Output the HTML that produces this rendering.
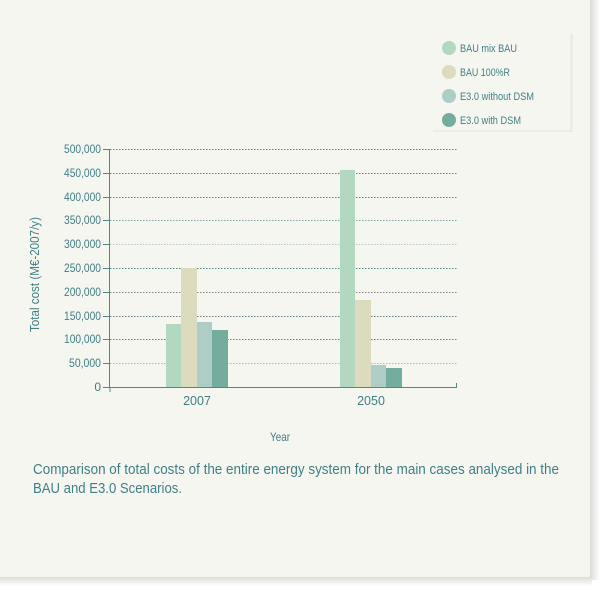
<!DOCTYPE html>
<html><head><meta charset="utf-8"><style>
body{margin:0;width:600px;height:593px;background:#fff;overflow:hidden}
</style></head><body>
<svg width="600" height="593" xmlns="http://www.w3.org/2000/svg" style="font-family:'Liberation Sans',sans-serif">
<defs>
<linearGradient id="rs" x1="0" x2="1"><stop offset="0" stop-color="#d8d8d4"/><stop offset="1" stop-color="#fff"/></linearGradient>
<linearGradient id="bs" x1="0" y1="0" x2="0" y2="1"><stop offset="0" stop-color="#d8d8d4"/><stop offset="1" stop-color="#fff"/></linearGradient>
</defs>
<rect x="589" y="0" width="11" height="580" fill="url(#rs)"/>
<rect x="0" y="576" width="592" height="10" fill="url(#bs)"/>
<rect x="0" y="0" width="590" height="577" fill="#f6f6f0"/>
<!-- legend -->
<rect x="433" y="34" width="140" height="98" fill="#ecece6"/>
<rect x="431" y="32" width="139" height="98" fill="#f6f6f0"/>
<g font-size="11" fill="#3f7f86" lengthAdjust="spacingAndGlyphs">
<circle cx="449" cy="48" r="7" fill="#b3d8c2"/><text x="460" y="52" textLength="57" lengthAdjust="spacingAndGlyphs">BAU mix BAU</text>
<circle cx="449" cy="72" r="7" fill="#dcdbbd"/><text x="460" y="76" textLength="50" lengthAdjust="spacingAndGlyphs">BAU 100%R</text>
<circle cx="449" cy="96" r="7" fill="#aecdc6"/><text x="460" y="100" textLength="74" lengthAdjust="spacingAndGlyphs">E3.0 without DSM</text>
<circle cx="449" cy="120" r="7" fill="#74ac9d"/><text x="460" y="124" textLength="61" lengthAdjust="spacingAndGlyphs">E3.0 with DSM</text>
</g>
<!-- grid -->
<g stroke-width="1" stroke-dasharray="1.5,1.5">
<line x1="110" x2="457" y1="149.5" y2="149.5" stroke="#4a8a86"/>
<line x1="110" x2="457" y1="173.5" y2="173.5" stroke="#4a8a86"/>
<line x1="110" x2="457" y1="197.5" y2="197.5" stroke="#4a8a86"/>
<line x1="110" x2="457" y1="220.5" y2="220.5" stroke="#7aa6a2"/>
<line x1="110" x2="457" y1="244.5" y2="244.5" stroke="#b6c9c6"/>
<line x1="110" x2="457" y1="268.5" y2="268.5" stroke="#4a8a86"/>
<line x1="110" x2="457" y1="292.5" y2="292.5" stroke="#8e7e86"/>
<line x1="110" x2="457" y1="316.5" y2="316.5" stroke="#6f7f86"/>
<line x1="110" x2="457" y1="339.5" y2="339.5" stroke="#4a8a86"/>
<line x1="110" x2="457" y1="363.5" y2="363.5" stroke="#9fbcb9"/>
</g>
<!-- bars -->
<rect x="166" y="324" width="15" height="63" fill="#b3d8c2"/>
<rect x="181" y="268" width="16" height="119" fill="#dcdbbd"/>
<rect x="197" y="322" width="15" height="65" fill="#aecdc6"/>
<rect x="212" y="330" width="16" height="57" fill="#74ac9d"/>
<rect x="340" y="170" width="15" height="217" fill="#b3d8c2"/>
<rect x="355" y="300" width="16" height="87" fill="#dcdbbd"/>
<rect x="371" y="365" width="15" height="22" fill="#aecdc6"/>
<rect x="386" y="368" width="16" height="19" fill="#74ac9d"/>
<!-- axes -->
<g stroke="#4a8a8a" stroke-width="1" fill="none">
<line x1="109.5" y1="149" x2="109.5" y2="387"/>
<line x1="109" y1="387.5" x2="457" y2="387.5"/>
<line x1="456.5" y1="383" x2="456.5" y2="388"/>
<line x1="110" y1="387" x2="110" y2="392"/>
<path d="M103 149.5h6M103 173.5h6M103 197.5h6M103 220.5h6M103 244.5h6M103 268.5h6M103 292.5h6M103 316.5h6M103 339.5h6M103 363.5h6M103 387.5h6"/>
</g>
<g font-size="12" fill="#3f7f86" text-anchor="end">
<text x="101" y="153" textLength="37" lengthAdjust="spacingAndGlyphs">500,000</text>
<text x="101" y="177" textLength="37" lengthAdjust="spacingAndGlyphs">450,000</text>
<text x="101" y="201" textLength="37" lengthAdjust="spacingAndGlyphs">400,000</text>
<text x="101" y="224" textLength="37" lengthAdjust="spacingAndGlyphs">350,000</text>
<text x="101" y="248" textLength="37" lengthAdjust="spacingAndGlyphs">300,000</text>
<text x="101" y="272" textLength="37" lengthAdjust="spacingAndGlyphs">250,000</text>
<text x="101" y="296" textLength="37" lengthAdjust="spacingAndGlyphs">200,000</text>
<text x="101" y="320" textLength="37" lengthAdjust="spacingAndGlyphs">150,000</text>
<text x="101" y="343" textLength="37" lengthAdjust="spacingAndGlyphs">100,000</text>
<text x="101" y="367" textLength="32" lengthAdjust="spacingAndGlyphs">50,000</text>
<text x="101" y="391">0</text>
</g>
<g font-size="12.5" fill="#3f7f86" text-anchor="middle">
<text x="197" y="405">2007</text><text x="371" y="405">2050</text>
</g>
<text x="270" y="441" font-size="12" fill="#3f7f86" textLength="20" lengthAdjust="spacingAndGlyphs">Year</text>
<text transform="translate(39,332) rotate(-90)" font-size="12.5" fill="#3f7f86" textLength="115" lengthAdjust="spacingAndGlyphs">Total cost (M€-2007/y)</text>
<g font-size="14.5" fill="#3f7f86">
<text x="33" y="474" textLength="526" lengthAdjust="spacingAndGlyphs">Comparison of total costs of the entire energy system for the main cases analysed in the</text>
<text x="33" y="493" textLength="149" lengthAdjust="spacingAndGlyphs">BAU and E3.0 Scenarios.</text>
</g>
</svg>
</body></html>
